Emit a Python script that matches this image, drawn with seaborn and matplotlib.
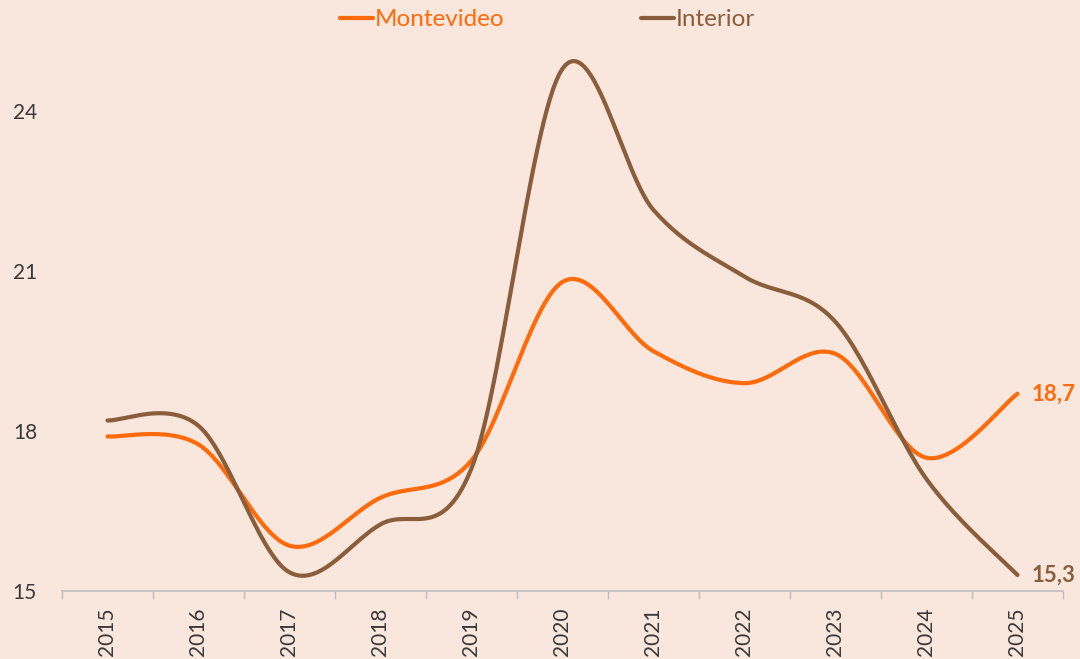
import numpy as np
import pandas as pd
import matplotlib
matplotlib.use("Agg")
import matplotlib.pyplot as plt
import seaborn as sns

# Data
years = ["2015", "2016", "2017", "2018", "2019", "2020", "2021", "2022", "2023", "2024", "2025"]
montevideo = [17.9, 17.75, 15.85, 16.75, 17.45, 20.8, 19.5, 18.9, 19.45, 17.5, 18.7]
interior = [18.2, 18.1, 15.35, 16.25, 17.3, 24.8, 22.15, 20.9, 20.05, 17.1, 15.3]
series_names = ["Montevideo", "Interior"]
colors = {"Montevideo": "#FF6A0A", "Interior": "#8A5E3B"}
bg = "#F9E6DD"


def smooth(xs, ys, steps=30):
    # Excel-like smoothed line: cubic bezier, control points from neighbours
    xs = np.asarray(xs, float)
    ys = np.asarray(ys, float)
    n = len(xs)
    px = np.concatenate([[xs[0]], xs, [xs[-1]]])
    py = np.concatenate([[ys[0]], ys, [ys[-1]]])
    out_x, out_y = [], []
    t = np.linspace(0, 1, steps)
    for i in range(n - 1):
        j = i + 1
        x0, y0 = px[j], py[j]
        x3, y3 = px[j + 1], py[j + 1]
        x1 = x0 + (px[j + 1] - px[j - 1]) / 6
        y1 = y0 + (py[j + 1] - py[j - 1]) / 6
        x2 = x3 - (px[j + 2] - px[j]) / 6
        y2 = y3 - (py[j + 2] - py[j]) / 6
        bx = (1 - t) ** 3 * x0 + 3 * (1 - t) ** 2 * t * x1 + 3 * (1 - t) * t ** 2 * x2 + t ** 3 * x3
        by = (1 - t) ** 3 * y0 + 3 * (1 - t) ** 2 * t * y1 + 3 * (1 - t) * t ** 2 * y2 + t ** 3 * y3
        if i > 0:
            bx, by = bx[1:], by[1:]
        out_x.extend(bx)
        out_y.extend(by)
    return np.array(out_x), np.array(out_y)


pos = np.arange(len(years))
frames = []
for name, vals in zip(series_names, [montevideo, interior]):
    sx, sy = smooth(pos, vals)
    frames.append(pd.DataFrame({"x": sx, "y": sy, "serie": name}))
df = pd.concat(frames, ignore_index=True)

sns.set_style("white")
plt.rcParams["font.family"] = ["Lato", "DejaVu Sans"]

fig = plt.figure(figsize=(10.8, 6.59), dpi=100)
fig.patch.set_facecolor(bg)
ax = fig.add_axes([0.0574, 0.1032, 0.9268, 0.8968])
ax.set_facecolor(bg)

sns.lineplot(data=df, x="x", y="y", hue="serie", palette=colors, sort=False,
             estimator=None, linewidth=3, ax=ax)

ax.set_xlim(-0.5, len(years) - 0.5)
ax.set_ylim(15, 26.09)
ax.set_yticks([15, 18, 21, 24])
ax.set_xticks(pos)
ax.set_xticklabels(years, rotation=90)
ax.set_xticks(np.arange(-0.5, len(years), 1), minor=True)
ax.tick_params(axis="x", which="major", bottom=False, length=0, pad=12, labelsize=15,
               labelcolor="#3A3A3A")
ax.tick_params(axis="x", which="minor", bottom=True, length=6, width=1, color="#BFBFBF",
               direction="out")
ax.tick_params(axis="y", left=False, length=0, pad=18, labelsize=15, labelcolor="#3A3A3A")
ax.set_xlabel("")
ax.set_ylabel("")
for s in ["top", "right", "left"]:
    ax.spines[s].set_visible(False)
ax.spines["bottom"].set_color("#BFBFBF")
ax.spines["bottom"].set_linewidth(1.2)

# end labels
ax.annotate("18,7", (pos[-1], montevideo[-1]), xytext=(10, 0), textcoords="offset points",
            va="center", ha="left", fontsize=16, fontweight="bold",
            color=colors["Montevideo"], annotation_clip=False)
ax.annotate("15,3", (pos[-1], interior[-1]), xytext=(10, 0), textcoords="offset points",
            va="center", ha="left", fontsize=16, fontweight="bold",
            color=colors["Interior"], annotation_clip=False)

ax.legend(loc="center", bbox_to_anchor=(0.507, 0.97), bbox_transform=fig.transFigure,
          ncol=2, frameon=False, fontsize=17.5, handlelength=1.35, handletextpad=0.1,
          columnspacing=5.6, labelcolor="linecolor")

fig.savefig("out.png", dpi=100, facecolor=bg)
